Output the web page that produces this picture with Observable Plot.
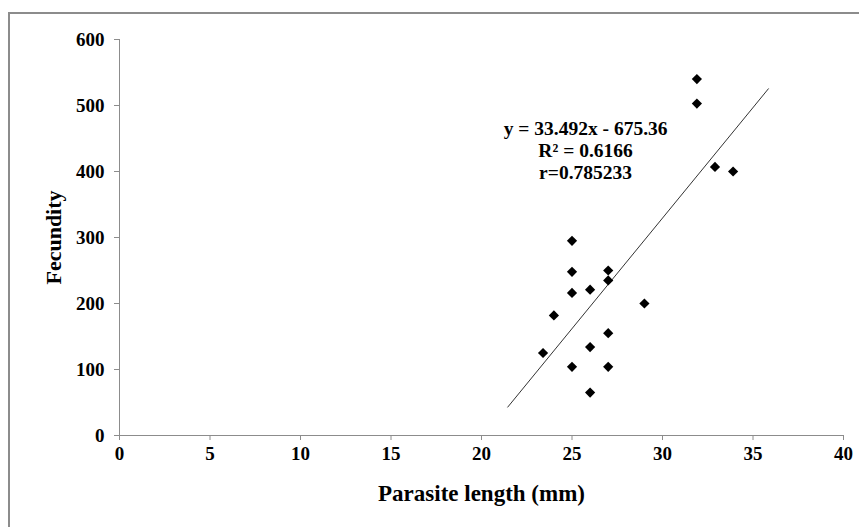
<!DOCTYPE html>
<html>
<head>
<meta charset="utf-8">
<script src="https://cdn.jsdelivr.net/npm/d3@7"></script>
<script src="https://cdn.jsdelivr.net/npm/@observablehq/plot@0.6"></script>
<style>
  html, body { margin: 0; padding: 0; background: #fff; overflow: hidden; }
  #wrap { position: relative; width: 859px; height: 527px; overflow: hidden; }
  #frame { position: absolute; left: 8px; top: 12px; width: 900px; height: 600px;
           border: 2.5px solid #8c8c8c; box-sizing: border-box; pointer-events: none; }
  #chart { position: absolute; left: 0; top: 0; }
</style>
</head>
<body>
<div id="wrap"><div id="chart"></div><div id="frame"></div></div>
<script>
// Data
const parasiteLength = [25, 25, 27, 27, 26, 25, 24, 29, 23.4, 27, 26, 25, 27, 26, 31.9, 31.9, 32.9, 33.9];
const fecundity      = [295, 248, 250, 235, 221, 216, 182, 200, 125, 155, 134, 104, 104, 65, 540, 503, 407, 400];
const xTicks = [0, 5, 10, 15, 20, 25, 30, 35, 40];
const yTicks = [0, 100, 200, 300, 400, 500, 600];
// Trendline (Excel linear fit shown on the chart)
const trendSlope = [33.492];
const trendIntercept = [-675.36];
const trendRange = [21.45, 35.85];
const equationLines = ["y = 33.492x - 675.36", "R² = 0.6166", "r=0.785233"];

const points = parasiteLength.map((x, i) => ({x, y: fecundity[i]}));
const trend = trendRange.map(x => ({x, y: trendSlope[0] * x + trendIntercept[0]}));

const chart = Plot.plot({
  width: 859,
  height: 527,
  marginLeft: 119,
  marginRight: 16,
  marginTop: 39,
  marginBottom: 92,
  style: { fontFamily: "'Liberation Serif', 'Times New Roman', serif", fontWeight: "bold", fontSize: "19px", color: "#000", background: "transparent" },
  x: { domain: [0, 40] },
  y: { domain: [0, 600] },
  marks: [
    Plot.axisY({ ticks: yTicks, tickSize: 5, tickPadding: 10, stroke: "#8c8c8c", label: null, fill: "#000", fontSize: 19, fontWeight: "bold" }),
    Plot.axisX({ ticks: xTicks, tickSize: 5, tickPadding: 6, stroke: "#8c8c8c", label: null, fill: "#000", fontSize: 19, fontWeight: "bold" }),
    Plot.ruleY([0], { stroke: "#8c8c8c", strokeWidth: 1 }),
    Plot.ruleX([0], { stroke: "#8c8c8c", strokeWidth: 1 }),
    Plot.text(["Parasite length (mm)"], { frameAnchor: "bottom", dy: 65, fontSize: 23, fontWeight: "bold", fill: "#000" }),
    Plot.text(["Fecundity"], { frameAnchor: "left", textAnchor: "middle", dx: -66, rotate: -90, fontSize: 22, fontWeight: "bold", fill: "#000", style: "letter-spacing:1.5px" }),
    Plot.line(trend, { x: "x", y: "y", stroke: "#333", strokeWidth: 1 }),
    Plot.dot(points, { x: "x", y: "y", symbol: "diamond2", r: 4.6, fill: "#000", stroke: "none" }),
    Plot.text([equationLines.join("\n")], { x: 25.75, y: 433, textAnchor: "middle", lineHeight: 1.12, fontSize: 19.5, fontWeight: "bold", fill: "#000" })
  ]
});
document.getElementById("chart").appendChild(chart);
</script>
</body>
</html>
